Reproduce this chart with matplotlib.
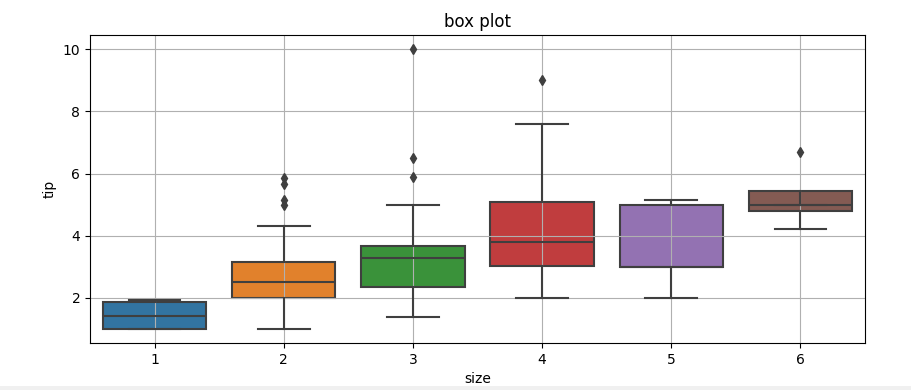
import matplotlib.pyplot as plt
from matplotlib.patches import Rectangle

# tip by party size, box statistics
sizes = ['1', '2', '3', '4', '5', '6']
q1 = [1.00, 2.00, 2.36, 3.01, 3.00, 4.80]
med = [1.42, 2.52, 3.29, 3.79, 3.00, 5.00]
q3 = [1.87, 3.17, 3.67, 5.09, 5.00, 5.44]
whislo = [1.00, 1.00, 1.38, 2.00, 2.00, 4.20]
whishi = [1.92, 4.32, 5.00, 7.59, 5.15, 5.00]
fliers = [[], [4.99, 5.15, 5.65, 5.87], [5.90, 6.49, 10.0], [9.0], [], [6.68]]

colors = ['#3274a1', '#e1812c', '#3a923a', '#c03d3e', '#9372b2', '#845b53']
LINE_GRAY = '#3f3f3f'

stats = []
for i in range(len(sizes)):
    stats.append({'label': sizes[i], 'q1': q1[i], 'med': med[i], 'q3': q3[i],
                  'whislo': whislo[i], 'whishi': whishi[i], 'fliers': fliers[i]})

fig = plt.figure(figsize=(9.11, 3.9), dpi=100)
ax = fig.add_axes([0.0988, 0.1205, 0.8507, 0.7895])

bp = ax.bxp(stats, positions=range(len(sizes)), widths=0.8, patch_artist=True,
            showfliers=True,
            boxprops=dict(edgecolor=LINE_GRAY, linewidth=1.5),
            medianprops=dict(color=LINE_GRAY, linewidth=1.5),
            whiskerprops=dict(color=LINE_GRAY, linewidth=1.5),
            capprops=dict(color=LINE_GRAY, linewidth=1.5),
            flierprops=dict(marker='d', markerfacecolor=LINE_GRAY,
                            markeredgecolor=LINE_GRAY, markersize=5))
for patch, c in zip(bp['boxes'], colors):
    patch.set_facecolor(c)
    patch.set_zorder(1)
for cap in bp['caps']:
    x0, x1 = cap.get_xdata()
    mid = (x0 + x1) / 2
    cap.set_xdata([mid - 0.2, mid + 0.2])

ax.set_xlim(-0.5, 5.5)
ax.set_ylim(0.55, 10.45)
ax.set_xticks(range(len(sizes)))
ax.set_xticklabels(sizes)
ax.set_yticks([2, 4, 6, 8, 10])
ax.grid(True, color='#b0b0b0', linewidth=0.8)
ax.set_title('box plot')
ax.set_xlabel('size')
ax.set_ylabel('tip')

fig.patches.append(Rectangle((0, 0), 1, 4 / 390, transform=fig.transFigure,
                             facecolor='#f0f0f0', edgecolor='none'))

fig.savefig('out.png', dpi=100)
